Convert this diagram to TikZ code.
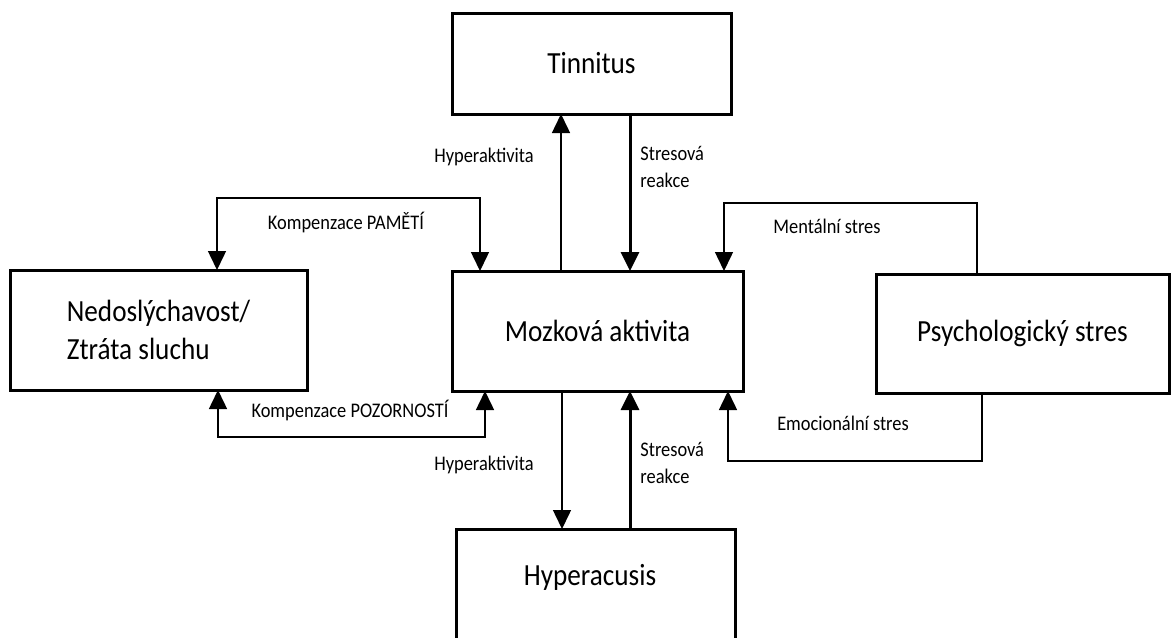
\documentclass[tikz,border=0pt]{standalone}
\usepackage{fontspec}
\setmainfont{Carlito}
\usepackage{graphicx}
\usetikzlibrary{arrows.meta,calc}
\newcommand{\vs}[1]{\scalebox{1}[1.13]{#1}}
\begin{document}
\begin{tikzpicture}[x=0.5pt,y=-0.5pt,
  >={Triangle[length=9.5pt,width=9pt]},
  boxtext/.style={font=\fontsize{13.6}{19}\selectfont},
  box/.style={boxtext,draw,line width=1.5pt,inner sep=0pt,outer sep=0pt,align=center},
  lbl/.style={inner sep=0pt,font=\fontsize{9.2}{13.5}\selectfont},
  thinline/.style={line width=0.75pt},
  thickline/.style={line width=1.5pt}]
\useasboundingbox (0,0) rectangle (1172,637);
\clip (0,0) rectangle (1172,637);

% boxes
\node[box,minimum width=139.5pt,minimum height=50.5pt] (tin) at (591.5,63.5) {\vs{Tinnitus}};
\node[box,minimum width=145.5pt,minimum height=60pt] (moz) at (597.5,331) {\vs{Mozková aktivita}};
\node[box,minimum width=148.5pt,minimum height=60pt,align=left] (nedo) at (158.5,330) {\vs{Nedoslýchavost/}\\\vs{Ztráta sluchu}};
\node[box,minimum width=146.5pt,minimum height=59.5pt] (psych) at (1022.5,333.5) {\vs{Psychologický stres}};
\node[box,minimum width=139.5pt,minimum height=100pt] (hyp) at (595.5,629) {};
\node[boxtext,inner sep=0pt] (hyptext) at (590,577) {\vs{Hyperacusis}};

% helper coordinates
\coordinate (h1) at ($(moz.north)+(-36.5,0)$);
\coordinate (s1) at ($(moz.north)+(32.5,0)$);
\coordinate (h2) at ($(moz.south)+(-35.5,0)$);
\coordinate (s2) at ($(moz.south)+(32.5,0)$);

% Tinnitus <-> Mozkova
\draw[thinline,->] (h1) -- (h1 |- tin.south);
\draw[thickline,->] (s1 |- tin.south) -- (s1);

% Mozkova <-> Hyperacusis
\draw[thinline,->] (h2) -- (h2 |- hyp.north);
\draw[thickline,->] (s2 |- hyp.north) -- (s2);

% Kompenzace
\draw[thinline,<->] ($(nedo.north)+(58.5,0)$) |- ($(moz.north)+(-117.5,-73)$) -- ($(moz.north)+(-117.5,0)$);
\draw[thinline,<->] ($(nedo.south)+(59.5,0)$) |- ($(moz.south)+(-112.5,46)$) -- ($(moz.south)+(-112.5,0)$);

% stres
\draw[thinline,->] ($(psych.north)+(-45.5,0)$) |- ($(moz.north)+(126.5,-68)$) -- ($(moz.north)+(126.5,0)$);
\draw[thinline,->] ($(psych.south)+(-40.5,0)$) |- ($(moz.south)+(130.5,70)$) -- ($(moz.south)+(130.5,0)$);

% labels
\node[lbl] (l1) at (484,157) {\vs{Hyperaktivita}};
\node[lbl,anchor=west,align=left] (l2) at (640,166.5) {\vs{Stresová}\\\vs{reakce}};
\node[lbl] (l3) at (346,222) {\vs{Kompenzace PAMĚTÍ}};
\node[lbl] (l4) at (350,410) {\vs{Kompenzace POZORNOSTÍ}};
\node[lbl] (l5) at (827,226) {\vs{Mentální stres}};
\node[lbl] (l6) at (843,423) {\vs{Emocionální stres}};
\node[lbl] (l7) at (484,465) {\vs{Hyperaktivita}};
\node[lbl,anchor=west,align=left] (l8) at (640,462.5) {\vs{Stresová}\\\vs{reakce}};
\end{tikzpicture}
\end{document}
